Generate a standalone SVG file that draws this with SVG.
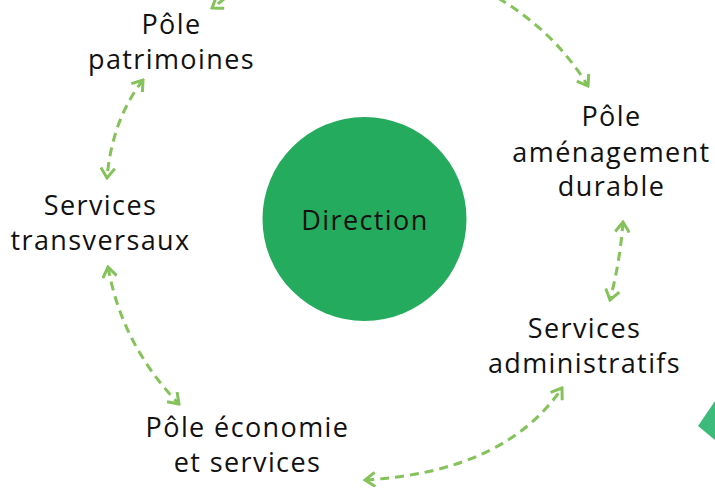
<svg xmlns="http://www.w3.org/2000/svg" width="715" height="489" viewBox="0 0 715 489">
<style>
.lbl{font-family:"Open Sans","Noto Sans",sans-serif;font-size:27px;letter-spacing:1.4px;fill:#111;text-anchor:middle}
.con{fill:none;stroke:#84c25a;stroke-width:3;stroke-dasharray:9 6}
</style>
<defs>
<marker id="ah" viewBox="-12 -8 14 16" markerWidth="14" markerHeight="16" refX="0" refY="0" orient="auto-start-reverse" markerUnits="userSpaceOnUse">
<path d="M-10,-7 L0,0 L-10,7" fill="none" stroke="#84c25a" stroke-width="3"/>
</marker>
</defs>
<rect width="715" height="489" fill="#fff"/>
<g id="connectors">
<path class="con" d="M236,-12 Q224,0 212,8" marker-end="url(#ah)"/>
<path class="con" d="M498,-2 Q555,32 588,86" marker-end="url(#ah)"/>
<path class="con" d="M143,80 Q112,120 107,178" marker-start="url(#ah)" marker-end="url(#ah)"/>
<path class="con" d="M108,267 Q122,345 179,404" marker-start="url(#ah)" marker-end="url(#ah)"/>
<path class="con" d="M365,480 Q505,472 562,388" marker-start="url(#ah)" marker-end="url(#ah)"/>
<path class="con" d="M623,222 Q620,262 610,300" marker-start="url(#ah)" marker-end="url(#ah)"/>
</g>
<g id="direction">
<circle cx="364.5" cy="219" r="102" fill="#25ab5e"/>
<text class="lbl" x="365" y="230">Direction</text>
</g>
<g id="pole-patrimoines">
<text class="lbl" x="171.5" y="34">Pôle</text>
<text class="lbl" x="171.5" y="69">patrimoines</text>
</g>
<g id="services-transversaux">
<text class="lbl" x="100.5" y="215">Services</text>
<text class="lbl" x="100.5" y="250">transversaux</text>
</g>
<g id="pole-economie">
<text class="lbl" x="247.5" y="437">Pôle économie</text>
<text class="lbl" x="247.5" y="472">et services</text>
</g>
<g id="services-administratifs">
<text class="lbl" x="584.5" y="338">Services</text>
<text class="lbl" x="584.5" y="373">administratifs</text>
</g>
<g id="pole-amenagement">
<text class="lbl" x="611.5" y="126">Pôle</text>
<text class="lbl" x="611.5" y="162">aménagement</text>
<text class="lbl" x="611.5" y="196">durable</text>
</g>
<polygon points="698,426 715,401 715,440" fill="#3dbb7a"/>
</svg>
